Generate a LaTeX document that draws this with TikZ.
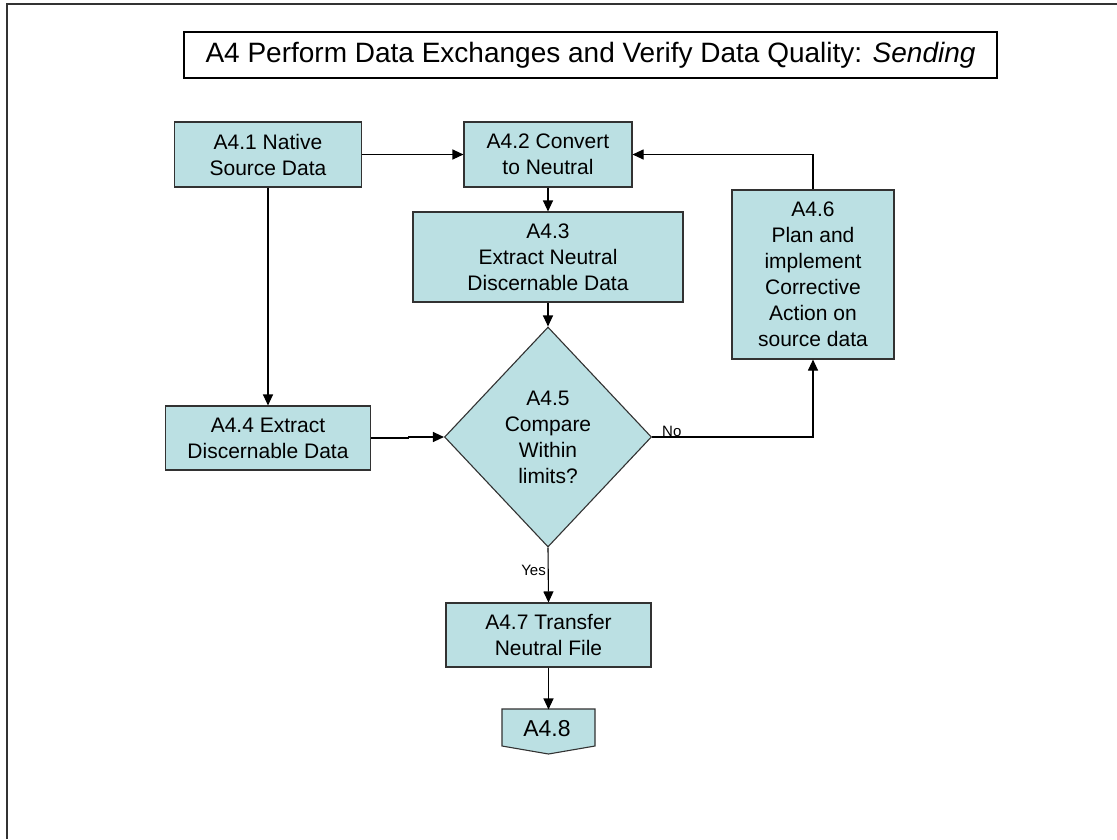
\documentclass[tikz,border=0pt]{standalone}
\usepackage{fontspec}
\setmainfont{Liberation Sans}
\usetikzlibrary{arrows.meta,shapes.geometric}
\definecolor{boxfill}{RGB}{187,224,227}
\definecolor{boxline}{RGB}{50,50,50}
\begin{document}
\begin{tikzpicture}[x=1pt,y=-1pt,
  procbox/.style={draw=boxline,fill=boxfill,line width=1.1pt,inner sep=0pt,align=center,font=\fontsize{21}{26}\selectfont},
  conn/.style={line width=1.1pt,-{Triangle[length=11pt,width=10pt]}},
  lbl/.style={font=\fontsize{15}{18}\selectfont,inner sep=0pt}]
\useasboundingbox (0,0) rectangle (1117,839);
\fill[white] (0,0) rectangle (1117,839);
\draw[line width=2pt,black!80] (7,839) -- (7,4) -- (1117,4);

\node[draw=black,fill=white,line width=1.1pt,inner sep=0pt,minimum width=813pt,minimum height=46pt,font=\fontsize{28}{32}\selectfont] (title) at (590.5,55) {A4 Perform Data Exchanges and Verify Data Quality: \textit{Sending}};

\node[procbox,minimum width=187.5pt,minimum height=65pt] (n1) at (268,154.5) {A4.1 Native\\Source Data};
\node[procbox,minimum width=168pt,minimum height=65pt] (n2) at (548,154.5) {A4.2 Convert\\to Neutral};
\node[procbox,minimum width=270pt,minimum height=90pt] (n3) at (548,257) {A4.3\\Extract Neutral\\Discernable Data};
\node[procbox,minimum width=162pt,minimum height=169pt] (n6) at (813,274.5) {A4.6\\Plan and\\implement\\Corrective\\Action on\\source data};
\node[procbox,minimum width=205.6pt,minimum height=64pt] (n4) at (268,438) {A4.4 Extract\\Discernable Data};
\node[procbox,diamond,minimum width=207pt,minimum height=220pt] (n5) at (548,437) {A4.5\\Compare\\Within\\limits?};
\node[procbox,minimum width=205pt,minimum height=64pt] (n7) at (548.5,635) {A4.7 Transfer\\Neutral File};
\draw[draw=boxline,fill=boxfill,line width=1.1pt] (502,709) -- (595,709) -- (595,746) -- (548.5,754) -- (502,746) -- cycle;
\node[procbox,draw=none,fill=none,minimum width=93pt,minimum height=37pt,font=\fontsize{23}{26}\selectfont] (n8) at (547,728.5) {A4.8};

\draw[conn] (n1) -- (n2);
\draw[conn] (n1) -- (n4);
\draw[conn] (n2) -- (n3);
\draw[conn] (n3) -- (n5);
\draw[conn] (n4.east) -- ++(37,0) |- (n5.west);
\draw[conn] (n5.east) -| (n6.south);
\draw[conn] (n6.north) |- (n2.east);
\draw[conn] (n5.south) -- (n7.north);
\draw[conn] (n7.south) -- (n7.south |- n8.north);

\node[lbl,anchor=base west] (no) at (662,436) {No};
\node[lbl,anchor=base east] (yes) at (546,575) {Yes};
\end{tikzpicture}
\end{document}
